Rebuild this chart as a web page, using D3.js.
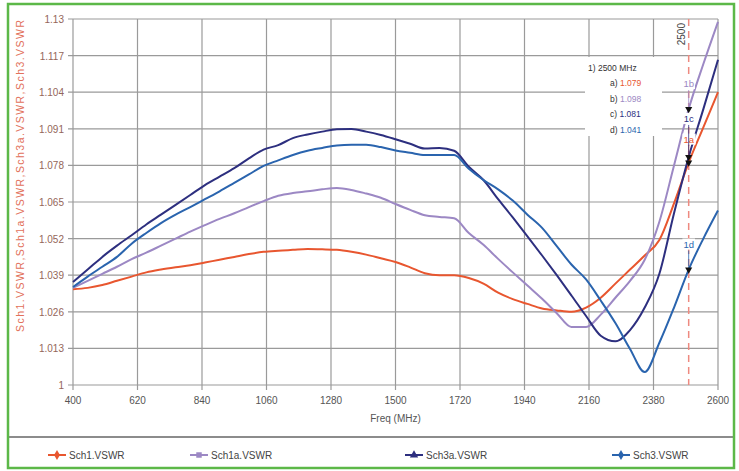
<!DOCTYPE html>
<html>
<head>
<meta charset="utf-8">
<style>
  body { margin: 0; background: #fff; }
  svg { display: block; font-family: "Liberation Sans", Arial, sans-serif; }
</style>
</head>
<body>
<div class="chartContainer"></div>

<script src="https://d3js.org/d3.v7.min.js"></script>
<script>
    // data
    const freqs = [400, 450, 500, 550, 600, 650, 700, 750, 800, 850, 900, 950, 1000, 1050, 1100,
                   1150, 1200, 1250, 1300, 1350, 1400, 1450, 1500, 1550, 1600, 1650, 1700, 1750,
                   1800, 1850, 1900, 1950, 2000, 2050, 2100, 2150, 2200, 2250, 2300, 2350, 2400,
                   2450, 2500, 2550, 2600]
    const sch1 = [1.034, 1.0345, 1.0355, 1.037, 1.0385, 1.040, 1.041, 1.0418, 1.0425, 1.0435, 1.0445,
                  1.0455, 1.0465, 1.0473, 1.0477, 1.048, 1.0483, 1.0482, 1.048, 1.0473, 1.0463, 1.045,
                  1.0437, 1.0418, 1.0397, 1.039, 1.039, 1.038, 1.036, 1.0328, 1.0305, 1.0288, 1.0272,
                  1.0265, 1.026, 1.0275, 1.031, 1.036, 1.041, 1.046, 1.0515, 1.0645, 1.079, 1.0915, 1.104]
    const sch1a = [1.0345, 1.037, 1.0395, 1.042, 1.0447, 1.047, 1.0495, 1.052, 1.0545, 1.0568, 1.059,
                   1.061, 1.0632, 1.0653, 1.0672, 1.0682, 1.0688, 1.0695, 1.07, 1.0693, 1.068, 1.0665,
                   1.0643, 1.0622, 1.0603, 1.0597, 1.0592, 1.054, 1.0498, 1.0448, 1.040, 1.0353, 1.0306,
                   1.0255, 1.0206, 1.0206, 1.025, 1.031, 1.037, 1.0445, 1.058, 1.078, 1.098, 1.114, 1.129]
    const sch3a = [1.0366, 1.041, 1.0455, 1.0495, 1.0532, 1.057, 1.0605, 1.064, 1.0675, 1.071, 1.074,
                   1.077, 1.0805, 1.0836, 1.0852, 1.0877, 1.089, 1.09, 1.0908, 1.0909, 1.09, 1.0888,
                   1.0873, 1.0857, 1.084, 1.0842, 1.0832, 1.0775, 1.0728, 1.066, 1.0595, 1.0528, 1.046,
                   1.039, 1.0318, 1.0245, 1.0175, 1.0155, 1.0195, 1.0275, 1.0395, 1.061, 1.081, 1.098, 1.1155]
    const sch3 = [1.0348, 1.0385, 1.042, 1.0455, 1.0502, 1.054, 1.0575, 1.0605, 1.0632, 1.066, 1.0688,
                  1.0718, 1.0748, 1.0778, 1.0798, 1.0817, 1.0832, 1.0842, 1.0851, 1.0853, 1.0853, 1.0845,
                  1.0833, 1.0825, 1.0817, 1.0817, 1.0817, 1.0768, 1.0728, 1.0695, 1.0655, 1.0605, 1.0558,
                  1.0493, 1.0428, 1.0375, 1.030, 1.022, 1.0128, 1.0046, 1.015, 1.0275, 1.041, 1.052, 1.062]

    const seriesNames = ['Sch1.VSWR', 'Sch1a.VSWR', 'Sch3a.VSWR', 'Sch3.VSWR']
    const seriesValues = [sch1, sch1a, sch3a, sch3]
    const xTicks = [400, 620, 840, 1060, 1280, 1500, 1720, 1940, 2160, 2380, 2600]
    const yTicks = [1, 1.013, 1.026, 1.039, 1.052, 1.065, 1.078, 1.091, 1.104, 1.117, 1.13]

    // marker at 2500 MHz
    const markerFreq = 2500
    const markerLetters = ['a', 'b', 'c', 'd']
    const markerLabels = ['1a', '1b', '1c', '1d']
    const markerValues = [1.079, 1.098, 1.081, 1.041]

    const colors = ['#e8562f', '#9c88c4', '#2d2f7f', '#2a64ae']
    const symbols = [d3.symbolDiamond, d3.symbolSquare, d3.symbolTriangle, d3.symbolDiamond]

    const W = 739, H = 471
    const svg = d3.select('.chartContainer')
                  .append('svg')
                  .attr('width', W)
                  .attr('height', H)

    const pLeft = 73, pRight = 718, pTop = 19, pBottom = 385

    // scale
    const xScale = d3.scaleLinear()
                     .domain([400, 2600])
                     .range([pLeft, pRight])
    const yScale = d3.scaleLinear()
                     .domain([1, 1.13])
                     .range([pBottom, pTop])

    // grid
    svg.append('g')
       .selectAll('line')
       .data(yTicks)
       .join('line')
       .attr('x1', pLeft - 5).attr('x2', pRight)
       .attr('y1', d => yScale(d)).attr('y2', d => yScale(d))
       .attr('stroke', '#9a9a9a')
       .attr('stroke-width', 1.2)
    svg.append('g')
       .selectAll('line')
       .data(xTicks)
       .join('line')
       .attr('x1', d => xScale(d)).attr('x2', d => xScale(d))
       .attr('y1', pTop).attr('y2', pBottom + 5)
       .attr('stroke', '#9a9a9a')
       .attr('stroke-width', 1.2)

    // tick labels
    svg.append('g')
       .selectAll('text')
       .data(yTicks)
       .join('text')
       .attr('x', pLeft - 9)
       .attr('y', d => yScale(d) + 4)
       .attr('text-anchor', 'end')
       .attr('font-size', 10)
       .attr('fill', '#94665a')
       .text(d => d)
    svg.append('g')
       .selectAll('text')
       .data(xTicks)
       .join('text')
       .attr('x', d => xScale(d))
       .attr('y', pBottom + 19)
       .attr('text-anchor', 'middle')
       .attr('font-size', 10)
       .attr('fill', '#555')
       .text(d => d)

    svg.append('text')
       .attr('x', (pLeft + pRight) / 2)
       .attr('y', pBottom + 37)
       .attr('text-anchor', 'middle')
       .attr('font-size', 10)
       .attr('fill', '#555')
       .text('Freq (MHz)')

    // y title, stretched over the same span as in the picture
    svg.append('text')
       .attr('transform', `translate(24, 176) rotate(-90)`)
       .attr('text-anchor', 'middle')
       .attr('font-size', 10.5)
       .attr('fill', '#e2705a')
       .attr('textLength', 312)
       .attr('lengthAdjust', 'spacing')
       .text(seriesNames.join(','))

    // dashed marker line
    svg.append('line')
       .attr('x1', xScale(markerFreq)).attr('x2', xScale(markerFreq))
       .attr('y1', pTop).attr('y2', pBottom)
       .attr('stroke', '#ee8a80')
       .attr('stroke-width', 1.5)
       .attr('stroke-dasharray', '7,5')
    svg.append('text')
       .attr('transform', `translate(${xScale(markerFreq) - 4}, ${pTop + 4}) rotate(-90)`)
       .attr('text-anchor', 'end')
       .attr('font-size', 10)
       .attr('fill', '#444')
       .text(markerFreq)

    // lines
    const lineGen = d3.line()
                      .x((d, i) => xScale(freqs[i]))
                      .y(d => yScale(d))
                      .curve(d3.curveMonotoneX)

    svg.append('g')
       .selectAll('path')
       .data(seriesValues)
       .join('path')
       .attr('d', lineGen)
       .attr('fill', 'none')
       .attr('stroke', (d, i) => colors[i])
       .attr('stroke-width', 2)

    // marker labels with white background
    const labelOffsets = [-20, -22, -35, -22]
    const mk = svg.append('g')
    markerValues.forEach((v, i) => {
        const mx = xScale(markerFreq), my = yScale(v)
        const ly = my + labelOffsets[i]
        mk.append('line')
          .attr('x1', mx).attr('x2', mx)
          .attr('y1', ly + 3).attr('y2', my)
          .attr('stroke', colors[i])
          .attr('stroke-width', 0.8)
        const t = mk.append('text')
          .attr('x', mx)
          .attr('y', ly)
          .attr('text-anchor', 'middle')
          .attr('font-size', 9.5)
          .attr('fill', colors[i])
          .text(markerLabels[i])
        const bb = t.node().getBBox()
        mk.insert('rect', () => t.node())
          .attr('x', bb.x - 1).attr('y', bb.y)
          .attr('width', bb.width + 2).attr('height', bb.height)
          .attr('fill', '#fff')
        mk.append('path')
          .attr('d', d3.symbol().type(d3.symbolTriangle).size(22))
          .attr('transform', `translate(${mx}, ${my}) rotate(180)`)
          .attr('fill', '#111')
    })

    // readout box
    const box = svg.append('g')
    box.append('rect')
       .attr('x', 585).attr('y', 57)
       .attr('width', 77).attr('height', 79)
       .attr('fill', '#fff')
    box.append('text')
       .attr('x', 588).attr('y', 71)
       .attr('font-size', 8.5)
       .attr('fill', '#333')
       .text(`1) ${markerFreq} MHz`)
    markerValues.forEach((v, i) => {
        const t = box.append('text')
          .attr('x', 610).attr('y', 86 + i * 15.5)
          .attr('font-size', 8.5)
        t.append('tspan').attr('fill', '#333').text(markerLetters[i] + ') ')
        t.append('tspan').attr('fill', colors[i]).text(v.toFixed(3))
    })

    // frame and legend
    svg.append('line')
       .attr('x1', 8).attr('x2', 734)
       .attr('y1', 437).attr('y2', 437)
       .attr('stroke', '#666')
       .attr('stroke-width', 1.5)

    const legendX = [48, 190, 405, 612]
    const lg = svg.append('g')
                  .selectAll('g')
                  .data(seriesNames)
                  .join('g')
                  .attr('transform', (d, i) => `translate(${legendX[i]}, 455)`)
    lg.append('line')
      .attr('x1', 0).attr('x2', 18)
      .attr('stroke', (d, i) => colors[i])
      .attr('stroke-width', 2)
    lg.append('path')
      .attr('d', (d, i) => d3.symbol().type(symbols[i]).size(30)())
      .attr('transform', 'translate(9, 0)')
      .attr('fill', (d, i) => colors[i])
    lg.append('text')
      .attr('x', 21).attr('y', 3.5)
      .attr('font-size', 10)
      .attr('fill', '#444')
      .text(d => d)

    svg.append('rect')
       .attr('x', 8).attr('y', 4)
       .attr('width', 726).attr('height', 464)
       .attr('fill', 'none')
       .attr('stroke', '#5cb848')
       .attr('stroke-width', 2.5)
</script>
</body>
</html>
